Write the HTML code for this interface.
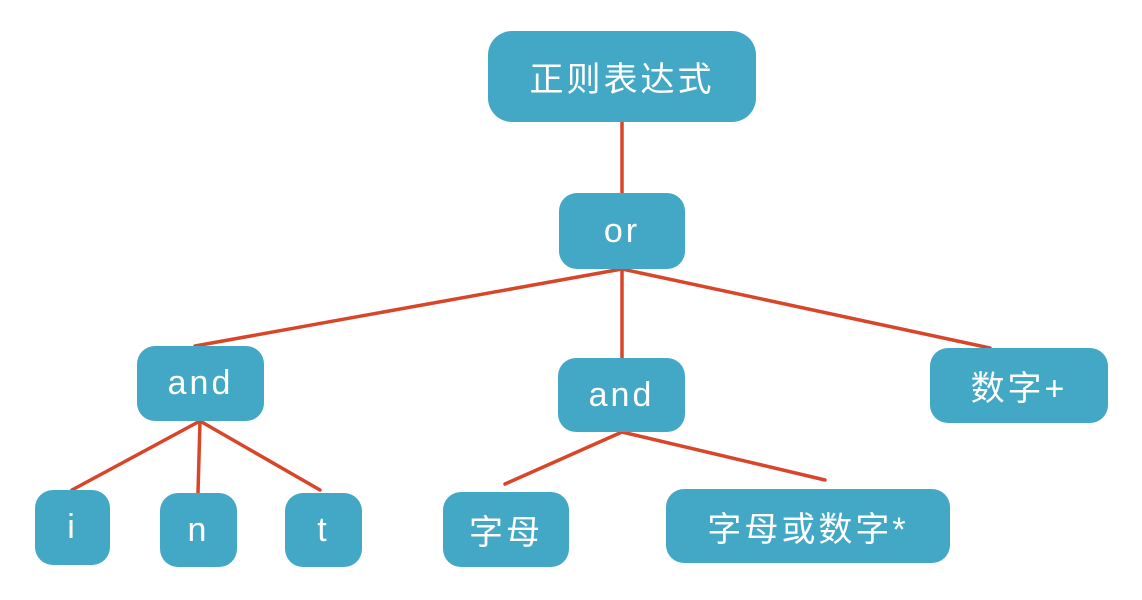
<!DOCTYPE html>
<html><head><meta charset="utf-8"><style>
body{margin:0;width:1142px;height:600px;background:#fff;position:relative;overflow:hidden;font-family:"Liberation Sans","Noto Sans CJK SC",sans-serif}
.n{position:absolute;background:#43a8c5;border-radius:18px;color:#fff;display:flex;align-items:center;justify-content:center;font-size:34px;letter-spacing:3px}
svg{position:absolute;left:0;top:0}
</style></head><body>
<svg width="1142" height="600"><g stroke="#d8462a" stroke-width="3.5" fill="none" stroke-linecap="round">
<line x1="622" y1="122" x2="622" y2="193"/>
<line x1="622" y1="269" x2="195" y2="346"/>
<line x1="622" y1="269" x2="622" y2="358"/>
<line x1="622" y1="269" x2="990" y2="348"/>
<line x1="200" y1="421" x2="72" y2="490"/>
<line x1="200" y1="421" x2="198" y2="493"/>
<line x1="200" y1="421" x2="320" y2="490"/>
<line x1="622" y1="432" x2="505" y2="484"/>
<line x1="622" y1="432" x2="825" y2="480"/>
</g></svg>
<div class="n" style="left:488px;top:31px;width:268px;height:91px;border-radius:24px">正则表达式</div>
<div class="n" style="left:559px;top:193px;width:126px;height:76px">or</div>
<div class="n" style="left:137px;top:346px;width:127px;height:75px">and</div>
<div class="n" style="left:558px;top:358px;width:127px;height:74px">and</div>
<div class="n" style="left:930px;top:348px;width:178px;height:75px">数字+</div>
<div class="n" style="left:35px;top:490px;width:75px;height:75px">i</div>
<div class="n" style="left:160px;top:493px;width:77px;height:74px">n</div>
<div class="n" style="left:285px;top:493px;width:77px;height:74px">t</div>
<div class="n" style="left:443px;top:492px;width:126px;height:75px">字母</div>
<div class="n" style="left:666px;top:489px;width:284px;height:74px">字母或数字*</div>
</body></html>
